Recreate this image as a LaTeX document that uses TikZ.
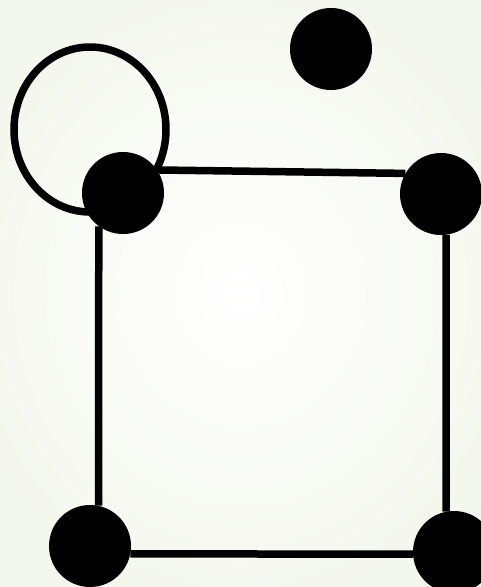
\documentclass[tikz,border=0pt]{standalone}
\definecolor{bgedge}{HTML}{F3F6EC}
\begin{document}
\begin{tikzpicture}[x=1pt,y=-1pt,
  vtx/.style={circle,fill=black,inner sep=0pt,minimum size=82pt},
  edge/.style={line width=7.5pt,black}]
\useasboundingbox (0,0) rectangle (481,587);
\shade[inner color=white,outer color=bgedge] (-80,-60) rectangle (561,647);
\node[vtx] (t) at (331,49) {};
\node[vtx] (a) at (123,193) {};
\node[vtx] (c) at (441,194) {};
\node[vtx] (b) at (90,546) {};
\node[vtx] (d) at (454,552) {};
\coordinate (lc) at (90,129.5);
\draw[edge] (lc) ellipse [x radius=76, y radius=82.5];
\draw[edge] (a.34) -- (c.150);
\draw[edge] (a.-126) -- (b.78);
\draw[edge] (b.-11) -- (d.183);
\draw[edge] (c.-83) -- (d.101);
\end{tikzpicture}
\end{document}
